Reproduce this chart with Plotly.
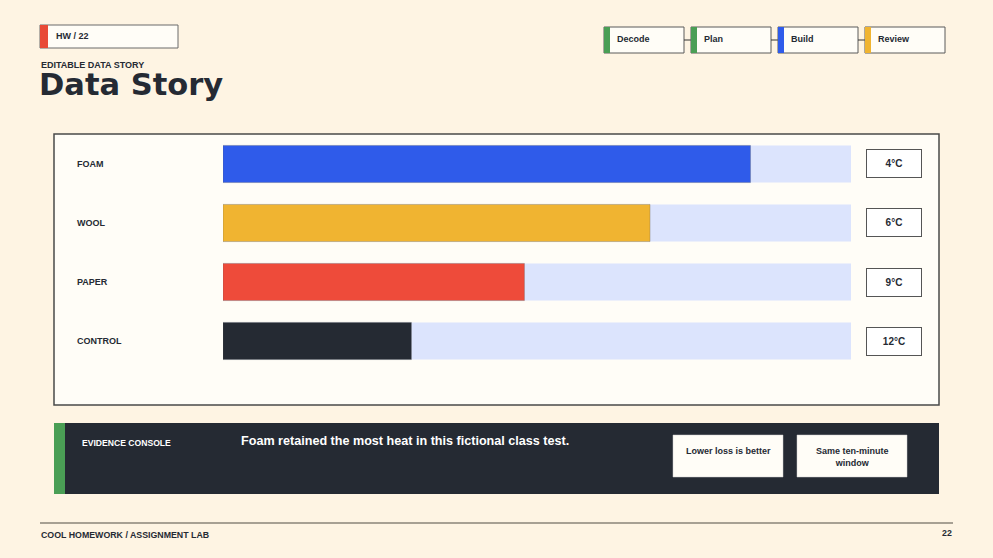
import plotly.graph_objects as go

W, H = 993, 558

# ---- data ----
materials = ["FOAM", "WOOL", "PAPER", "CONTROL"]
retention = [84, 68, 48, 30]          # bar length, % of track
heat_loss = ["4°C", "6°C", "9°C", "12°C"]
bar_colors = ["#2F5BEA", "#F0B431", "#EE4B3A", "#252A33"]
track_max = 100

steps = ["Decode", "Plan", "Build", "Review"]
step_colors = ["#4A9E55", "#4A9E55", "#2F5BEA", "#F0B431"]
notes = ["Lower loss is better", "Same ten-minute<br>window"]

BG = "#FEF4E3"
PANEL = "#FFFDF7"
DARK = "#252A33"
FONT = "Liberation Sans"


def px(x):
    return x / W


def py(y):
    return 1 - y / H


fig = go.Figure()

# track bars
fig.add_trace(go.Bar(
    y=materials, x=[track_max] * len(materials), orientation="h",
    marker=dict(color="#DCE4FD", line=dict(width=0)),
    width=0.63, hoverinfo="skip", showlegend=False))
# value bars
fig.add_trace(go.Bar(
    y=materials, x=retention, orientation="h",
    marker=dict(color=bar_colors, line=dict(color="rgba(90,90,90,0.5)", width=0.6)),
    width=0.63, showlegend=False))

shapes = []
annotations = []

# main panel
shapes.append(dict(type="rect", xref="paper", yref="paper",
                   x0=px(54), x1=px(939), y0=py(405), y1=py(134),
                   fillcolor=PANEL, line=dict(color="#4a4a4a", width=1.5), layer="below"))

# category labels and value boxes
for m, v in zip(materials, heat_loss):
    annotations.append(dict(xref="paper", yref="y", x=px(75), y=m, text=f"<b>{m}</b>",
                            showarrow=False, xanchor="left", yanchor="middle",
                            font=dict(family=FONT, size=9, color=DARK)))
    annotations.append(dict(xref="paper", yref="y", x=px(894), y=m, text=f"<b>{v}</b>",
                            showarrow=False, xanchor="center", yanchor="middle",
                            width=52, height=25, borderpad=1, borderwidth=1,
                            bordercolor="#555555", bgcolor="#FFFFFF",
                            font=dict(family=FONT, size=10, color=DARK)))

# header tag
shapes.append(dict(type="rect", xref="paper", yref="paper", x0=px(40), x1=px(178),
                   y0=py(48), y1=py(25), fillcolor="#FFFDF7",
                   line=dict(color="#6b6b6b", width=1)))
shapes.append(dict(type="rect", xref="paper", yref="paper", x0=px(40), x1=px(48),
                   y0=py(48), y1=py(25), fillcolor="#E84A37", line=dict(width=0)))
annotations.append(dict(xref="paper", yref="paper", x=px(54), y=py(36.5), text="<b>HW / 22</b>",
                        showarrow=False, xanchor="left", yanchor="middle",
                        font=dict(family=FONT, size=9, color=DARK)))
annotations.append(dict(xref="paper", yref="paper", x=px(39), y=py(64.5), text="<b>EDITABLE DATA STORY</b>",
                        showarrow=False, xanchor="left", yanchor="middle",
                        font=dict(family=FONT, size=9, color=DARK)))
annotations.append(dict(xref="paper", yref="paper", x=px(37), y=py(85), text="<b>Data Story</b>",
                        showarrow=False, xanchor="left", yanchor="middle",
                        font=dict(family="DejaVu Sans", size=30.5, color=DARK)))

# step boxes
step_x0 = [604, 691, 778, 865]
for i, (s, c) in enumerate(zip(steps, step_colors)):
    x0 = step_x0[i]
    shapes.append(dict(type="rect", xref="paper", yref="paper", x0=px(x0), x1=px(x0 + 80),
                       y0=py(53), y1=py(27), fillcolor="#FFFDF7",
                       line=dict(color="#5a5a5a", width=1)))
    shapes.append(dict(type="rect", xref="paper", yref="paper", x0=px(x0), x1=px(x0 + 6),
                       y0=py(53), y1=py(27), fillcolor=c, line=dict(width=0)))
    annotations.append(dict(xref="paper", yref="paper", x=px(x0 + 11), y=py(38.5),
                            text=f"<b>{s}</b>", showarrow=False, xanchor="left", yanchor="middle",
                            font=dict(family=FONT, size=9, color=DARK)))
    if i < len(steps) - 1:
        shapes.append(dict(type="line", xref="paper", yref="paper", x0=px(x0 + 80), x1=px(x0 + 87),
                           y0=py(40), y1=py(40), line=dict(color="#333333", width=1)))

# evidence console
shapes.append(dict(type="rect", xref="paper", yref="paper", x0=px(54), x1=px(939),
                   y0=py(494), y1=py(423), fillcolor=DARK, line=dict(width=0)))
shapes.append(dict(type="rect", xref="paper", yref="paper", x0=px(54), x1=px(65),
                   y0=py(494), y1=py(423), fillcolor="#4A9E55", line=dict(width=0)))
annotations.append(dict(xref="paper", yref="paper", x=px(80), y=py(443), text="<b>EVIDENCE CONSOLE</b>",
                        showarrow=False, xanchor="left", yanchor="middle",
                        font=dict(family=FONT, size=8.6, color="#FFFFFF")))
annotations.append(dict(xref="paper", yref="paper", x=px(239), y=py(441),
                        text="<b>Foam retained the most heat in this fictional class test.</b>",
                        showarrow=False, xanchor="left", yanchor="middle",
                        font=dict(family=FONT, size=12.6, color="#FFFFFF")))
note_x0 = [673, 797]
for nx, t in zip(note_x0, notes):
    shapes.append(dict(type="rect", xref="paper", yref="paper", x0=px(nx), x1=px(nx + 110),
                       y0=py(477), y1=py(435), fillcolor=PANEL, line=dict(color="#cccccc", width=0.5)))
    annotations.append(dict(xref="paper", yref="paper", x=px(nx + 55), y=py(444), text=f"<b>{t}</b>",
                            showarrow=False, xanchor="center", yanchor="top", align="center",
                            font=dict(family=FONT, size=9, color=DARK)))

# footer
shapes.append(dict(type="line", xref="paper", yref="paper", x0=px(40), x1=px(953),
                   y0=py(523), y1=py(523), line=dict(color="#8a8478", width=1.5)))
annotations.append(dict(xref="paper", yref="paper", x=px(39), y=py(535),
                        text="<b>COOL HOMEWORK / ASSIGNMENT LAB</b>", showarrow=False,
                        xanchor="left", yanchor="middle",
                        font=dict(family=FONT, size=8.8, color=DARK)))
annotations.append(dict(xref="paper", yref="paper", x=px(954), y=py(533), text="<b>22</b>",
                        showarrow=False, xanchor="right", yanchor="middle",
                        font=dict(family=FONT, size=8.8, color=DARK)))

fig.update_layout(
    width=W, height=H, margin=dict(l=0, r=0, t=0, b=0),
    paper_bgcolor=BG, plot_bgcolor="rgba(0,0,0,0)",
    barmode="overlay", bargap=0.37,
    xaxis=dict(domain=[px(223), px(851)], range=[0, track_max], visible=False, fixedrange=True),
    yaxis=dict(domain=[py(370.5), py(134.5)], range=[3.5, -0.5], visible=False,
               type="category", categoryorder="array", categoryarray=materials, fixedrange=True),
    shapes=shapes, annotations=annotations,
    font=dict(family=FONT),
)

fig.write_html("out.html", config={"displayModeBar": False},
               post_script="document.body.style.margin='0';")
